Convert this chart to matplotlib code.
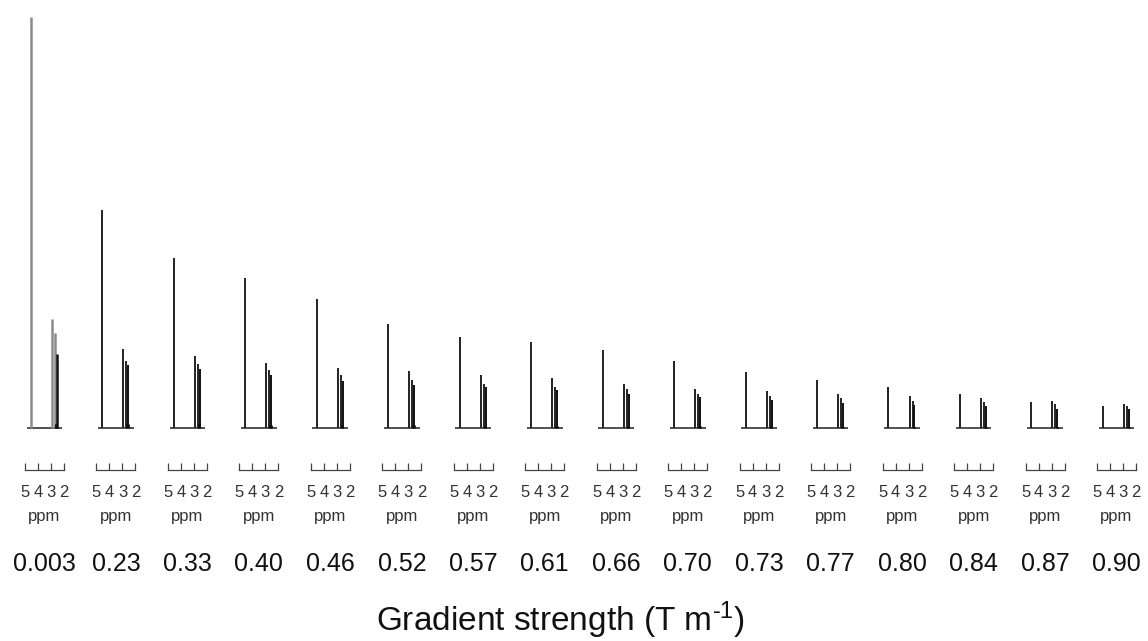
import matplotlib
matplotlib.use("Agg")
import matplotlib.pyplot as plt

plt.rcParams['font.family'] = ['Liberation Sans', 'DejaVu Sans']
plt.rcParams['mathtext.fontset'] = 'custom'
plt.rcParams['mathtext.rm'] = 'Liberation Sans'
plt.rcParams['mathtext.it'] = 'Liberation Sans:italic'

# Gradient strengths (T m^-1) for each spectrum
gradients = ["0.003", "0.23", "0.33", "0.40", "0.46", "0.52", "0.57", "0.61",
             "0.66", "0.70", "0.73", "0.77", "0.80", "0.84", "0.87", "0.90"]

# Peak positions (ppm)
peak_ppm = [4.55, 2.93, 2.70, 2.55]
baseline_ppm = (4.88, 2.13)

# Peak intensities (arbitrary units) per spectrum
water = [411, 218, 170, 150, 129, 104, 91, 86, 78, 67, 56, 48, 41, 34, 26, 22]
peak_a = [109, 79, 72, 65, 60, 57, 53, 50, 44, 39, 37, 34, 32, 30, 27, 24]
peak_b = [95, 67, 64, 58, 53, 48, 44, 41, 39, 34, 32, 30, 27, 26, 24, 22]
peak_c = [74, 63, 59, 53, 47, 43, 41, 38, 34, 31, 28, 25, 23, 22, 19, 19]

ppm_ticks = [5, 4, 3, 2]

W, H = 1148, 641
fig = plt.figure(figsize=(W / 100, H / 100), dpi=100)

pitch = 71.47
left0 = 25
panel_w = 39
base_y = 428
top_y = 17

for i, g in enumerate(gradients):
    x0 = left0 + pitch * i
    ax = fig.add_axes([x0 / W, (H - base_y) / H, panel_w / W, (base_y - top_y) / H])
    col = '#8a8a8a' if i == 0 else '#222222'
    lw = 1.8 if i == 0 else 1.4
    ax.hlines(0, baseline_ppm[0], baseline_ppm[1], color='#222222', lw=1.1, clip_on=False)
    heights = [water[i], peak_a[i], peak_b[i], peak_c[i]]
    cols = [col, col, col if i == 0 else '#222222', '#111111']
    ax.vlines(peak_ppm, 0, heights, colors=cols, lw=lw, clip_on=False)
    # dense base of the multiplet region
    ax.vlines([2.62, 2.58], 0, [h * 0.06 for h in (peak_c[i], peak_c[i])],
              colors='#111111', lw=2.0, clip_on=False)
    ax.set_xlim(5, 2)
    ax.set_ylim(0, max(water))
    for s in ['top', 'right', 'left']:
        ax.spines[s].set_visible(False)
    ax.spines['bottom'].set_position(('outward', 30))
    ax.spines['bottom'].set_color('#444444')
    ax.spines['bottom'].set_linewidth(0.9)
    ax.set_yticks([])
    ax.set_xticks(ppm_ticks)
    ax.set_xticklabels([str(t) for t in ppm_ticks])
    ax.tick_params(axis='x', direction='in', length=5, width=0.9, color='#444444',
                   labelsize=12, labelcolor='#333333', pad=11)
    ax.patch.set_visible(False)
    cx = (x0 + panel_w / 2) / W
    fig.text(cx, 1 - 517 / H, "ppm", ha='center', va='center', fontsize=12, color='#333333')
    fig.text(cx, 1 - 571 / H, g, ha='center', va='baseline', fontsize=18, color='#111111')

fig.text(560 / W, 1 - 631 / H, r"Gradient strength (T m$^{\text{-1}}$)", ha='center', va='baseline',
         fontsize=24, color='#111111')

fig.savefig("out.png", dpi=100)
